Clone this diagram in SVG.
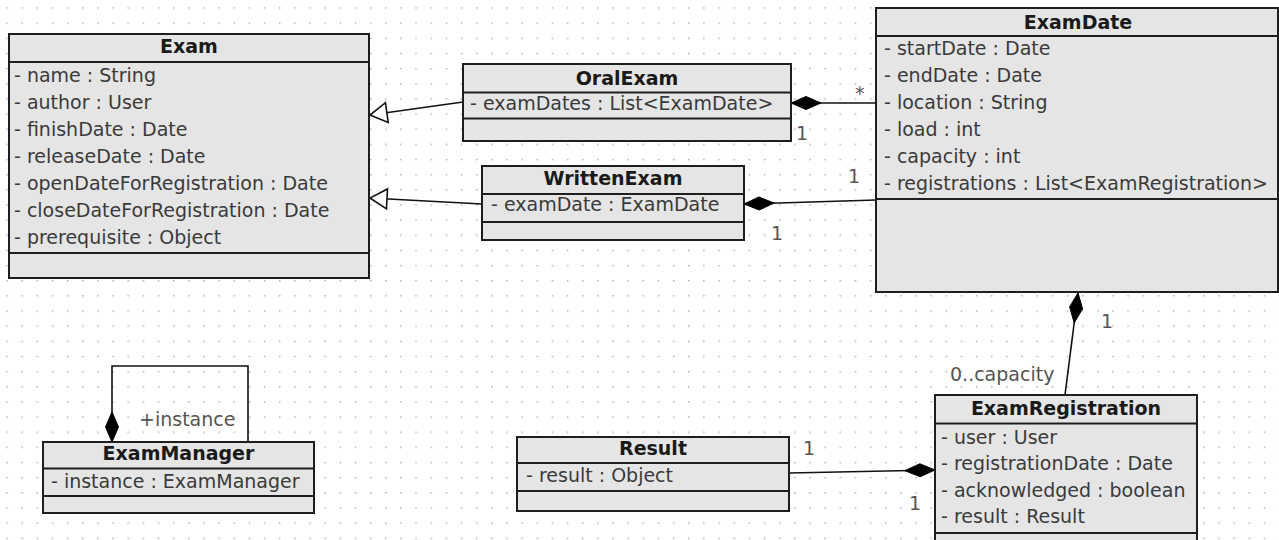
<svg xmlns="http://www.w3.org/2000/svg" width="1279" height="540" viewBox="0 0 1279 540">
<style>
.box{fill:#e5e5e5;stroke:#1e1e1e;stroke-width:2}
.sep{stroke:#1e1e1e;stroke-width:2}
.h{font-family:"DejaVu Sans",sans-serif;font-size:19px;font-weight:bold;text-anchor:middle;fill:#1a1a1a}
.a{font-family:"DejaVu Sans",sans-serif;font-size:19px;fill:#3a3a3a}
.m{font-family:"DejaVu Sans",sans-serif;font-size:19px;fill:#555}
.ln{fill:none;stroke:#111;stroke-width:1.6}
</style>
<defs>
<pattern id="grid" x="6.3" y="7.3" width="15.15" height="15.15" patternUnits="userSpaceOnUse">
<rect width="1.4" height="1.4" fill="#a8a8a8"/>
</pattern>
<marker id="dia" markerUnits="userSpaceOnUse" markerWidth="34" markerHeight="16" refX="0" refY="8" orient="auto" viewBox="0 0 34 16">
<path d="M0,8 L15,1.5 L30,8 L15,14.5 Z" fill="#000" stroke="#000" stroke-width="1"/>
</marker>
<marker id="tri" markerUnits="userSpaceOnUse" markerWidth="20" markerHeight="24" refX="19" refY="12" orient="auto" viewBox="0 0 20 24">
<path d="M19,12 L2,2 L2,22 Z" fill="#fff" stroke="#111" stroke-width="1.6"/>
</marker>
</defs>
<rect width="1279" height="540" fill="#fff"/>
<rect width="1279" height="540" fill="url(#grid)"/>

<g id="connectors">
<path class="ln" d="M463,102 L370,115" marker-end="url(#tri)"/>
<path class="ln" d="M482,204 L370,198" marker-end="url(#tri)"/>
<path class="ln" d="M791,103 L876,103" marker-start="url(#dia)"/>
<path class="ln" d="M744,204 L876,200" marker-start="url(#dia)"/>
<path class="ln" d="M1078,293 L1065,395" marker-start="url(#dia)"/>
<path class="ln" d="M935,470 L789,473" marker-start="url(#dia)"/>
<path class="ln" d="M112,442 L112,366 L248,366 L248,442" marker-start="url(#dia)"/>
<text class="m" x="855" y="100">*</text>
<text class="m" x="796" y="140">1</text>
<text class="m" x="848" y="183">1</text>
<text class="m" x="771" y="240">1</text>
<text class="m" x="1101" y="328">1</text>
<text class="m" x="950" y="381">0..capacity</text>
<text class="m" x="803" y="455">1</text>
<text class="m" x="909" y="510">1</text>
<text class="m" x="139" y="426">+instance</text>
</g>

<g id="Exam">
<rect class="box" x="9" y="34" width="360" height="244"/>
<line class="sep" x1="9" y1="62" x2="369" y2="62"/>
<line class="sep" x1="9" y1="253" x2="369" y2="253"/>
<text class="h" x="189" y="53">Exam</text>
<text class="a" x="14" y="81.5">- name : String</text>
<text class="a" x="14" y="108.5">- author : User</text>
<text class="a" x="14" y="135.5">- finishDate : Date</text>
<text class="a" x="14" y="162.5">- releaseDate : Date</text>
<text class="a" x="14" y="189.5">- openDateForRegistration : Date</text>
<text class="a" x="14" y="216.5">- closeDateForRegistration : Date</text>
<text class="a" x="14" y="243.5">- prerequisite : Object</text>
</g>

<g id="OralExam">
<rect class="box" x="463" y="64" width="328" height="77"/>
<line class="sep" x1="463" y1="92.5" x2="791" y2="92.5"/>
<line class="sep" x1="463" y1="118.5" x2="791" y2="118.5"/>
<text class="h" x="627" y="84.5">OralExam</text>
<text class="a" x="470" y="110">- examDates : List&lt;ExamDate&gt;</text>
</g>

<g id="WrittenExam">
<rect class="box" x="482" y="166" width="262" height="74"/>
<line class="sep" x1="482" y1="194" x2="744" y2="194"/>
<line class="sep" x1="482" y1="222" x2="744" y2="222"/>
<text class="h" x="613" y="185">WrittenExam</text>
<text class="a" x="491" y="211">- examDate : ExamDate</text>
</g>

<g id="ExamDate">
<rect class="box" x="876" y="8" width="402" height="284"/>
<line class="sep" x1="876" y1="36" x2="1278" y2="36"/>
<line class="sep" x1="876" y1="199" x2="1278" y2="199"/>
<text class="h" x="1078" y="28.5">ExamDate</text>
<text class="a" x="884" y="54.5">- startDate : Date</text>
<text class="a" x="884" y="81.5">- endDate : Date</text>
<text class="a" x="884" y="108.5">- location : String</text>
<text class="a" x="884" y="135.5">- load : int</text>
<text class="a" x="884" y="162.5">- capacity : int</text>
<text class="a" x="884" y="190">- registrations : List&lt;ExamRegistration&gt;</text>
</g>

<g id="ExamManager">
<rect class="box" x="43" y="442" width="271" height="71"/>
<line class="sep" x1="43" y1="468.5" x2="314" y2="468.5"/>
<line class="sep" x1="43" y1="496" x2="314" y2="496"/>
<text class="h" x="178.5" y="460">ExamManager</text>
<text class="a" x="51" y="488">- instance : ExamManager</text>
</g>

<g id="Result">
<rect class="box" x="517" y="437" width="272" height="74"/>
<line class="sep" x1="517" y1="463" x2="789" y2="463"/>
<line class="sep" x1="517" y1="491" x2="789" y2="491"/>
<text class="h" x="653" y="454.5">Result</text>
<text class="a" x="526" y="482">- result : Object</text>
</g>

<g id="ExamRegistration">
<rect class="box" x="935" y="395" width="262" height="160"/>
<line class="sep" x1="935" y1="423.5" x2="1197" y2="423.5"/>
<line class="sep" x1="935" y1="533" x2="1197" y2="533"/>
<text class="h" x="1066" y="415">ExamRegistration</text>
<text class="a" x="941" y="443.5">- user : User</text>
<text class="a" x="941" y="470">- registrationDate : Date</text>
<text class="a" x="941" y="496.5">- acknowledged : boolean</text>
<text class="a" x="941" y="523">- result : Result</text>
</g>
</svg>
